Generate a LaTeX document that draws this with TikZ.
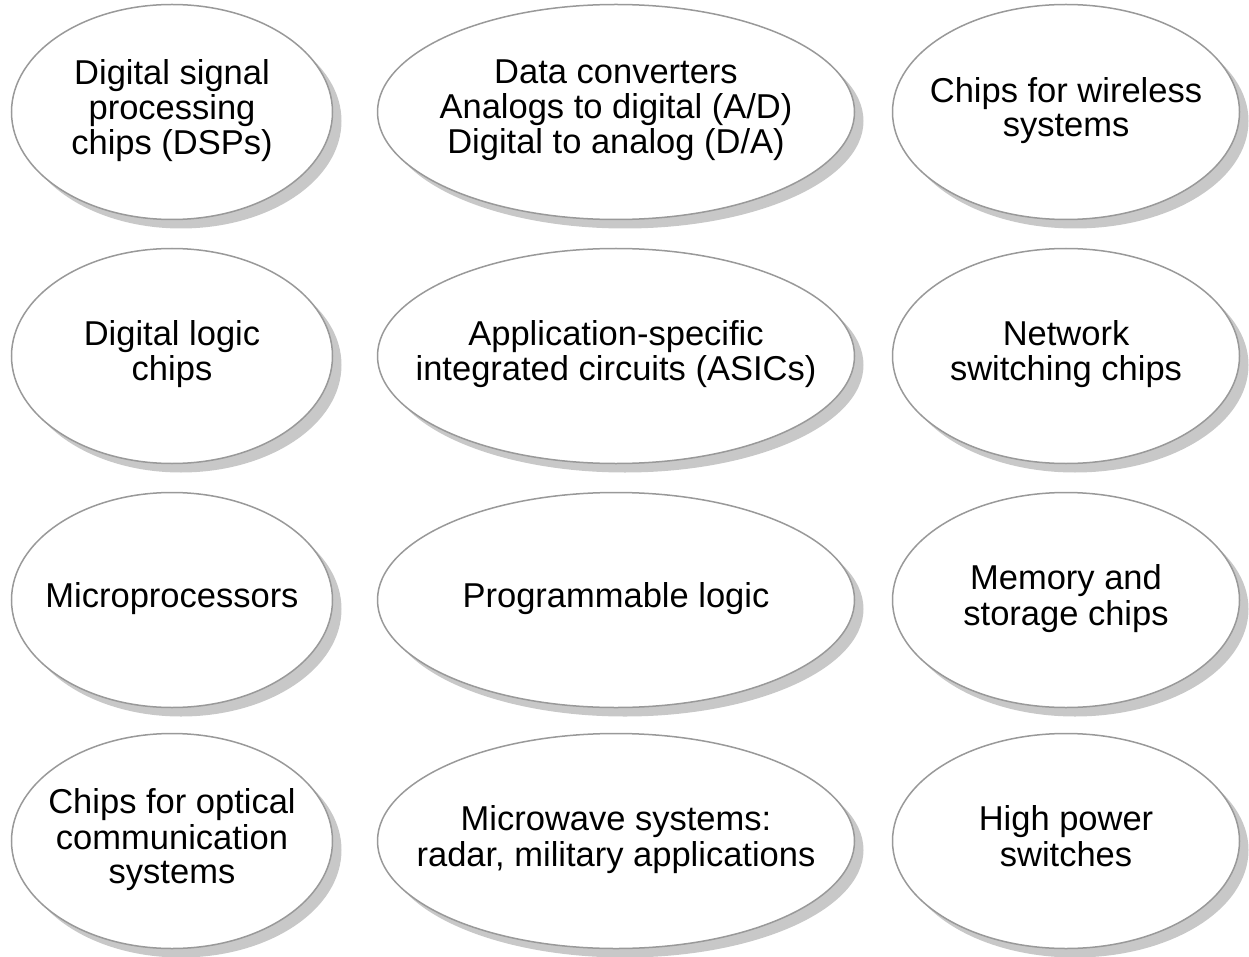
\documentclass[tikz,border=0pt]{standalone}
\usepackage{fontspec}
\setmainfont{Liberation Sans}
\usetikzlibrary{shapes.geometric,shadows}
\definecolor{edgegray}{HTML}{999999}
\definecolor{shadowgray}{HTML}{C8C8C8}
\newcommand{\lbl}[1]{\makebox[0pt]{\begin{tabular}{@{}c@{}}#1\end{tabular}}}
\begin{document}
\begin{tikzpicture}[x=1pt,y=-1pt,
  blob/.style={ellipse, draw=edgegray, line width=1.5pt, fill=white, inner sep=0pt,
    minimum height=215pt, align=center, font=\fontsize{34.5}{34}\selectfont,
    drop shadow={shadow xshift=9pt, shadow yshift=-9pt, fill=shadowgray, opacity=1}},
  colA/.style={blob, minimum width=321pt},
  colB/.style={blob, minimum width=477pt},
  colC/.style={blob, minimum width=347pt}]
\useasboundingbox (0,0) rectangle (1249,957);
\node[colA] (dsp) at (172,112) {\lbl{Digital signal\\processing\\chips (DSPs)}};
\node[colB] (conv) at (616,112) {\lbl{Data converters\\Analogs to digital (A/D)\\Digital to analog (D/A)}};
\node[colC] (wless) at (1066,112) {\lbl{Chips for wireless\\systems}};
\node[colA] (logic) at (172,356) {\lbl{Digital logic\\chips}};
\node[colB] (asic) at (616,356) {\lbl{Application-specific\\integrated circuits (ASICs)}};
\node[colC] (net) at (1066,356) {\lbl{Network\\switching chips}};
\node[colA] (mproc) at (172,600) {\lbl{Microprocessors}};
\node[colB] (prog) at (616,600) {\lbl{Programmable logic}};
\node[colC] (mem) at (1066,600) {\lbl{Memory and\\storage chips}};
\node[colA] (opt) at (172,841) {\lbl{Chips for optical\\communication\\systems}};
\node[colB] (micro) at (616,841) {\lbl{Microwave systems:\\radar, military applications}};
\node[colC] (pow) at (1066,841) {\lbl{High power\\switches}};
\end{tikzpicture}
\end{document}
